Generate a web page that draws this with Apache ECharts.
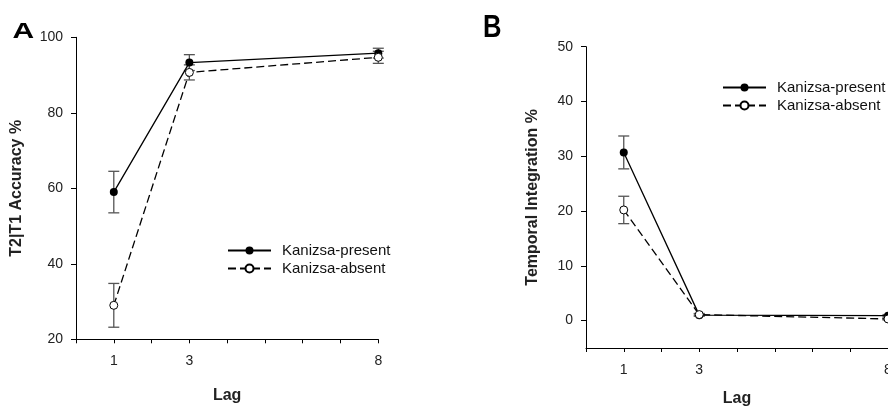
<!DOCTYPE html>
<html>
<head>
<meta charset="utf-8">
<script src="https://cdn.jsdelivr.net/npm/echarts@6/dist/echarts.min.js"></script>
<style>html,body{margin:0;padding:0;background:#fff}#c{width:888px;height:406px}</style>
</head>
<body>
<div id="c"></div>
<script>
// ---- data ----
var lags = [1, 3, 8];
var xTickLabels = [1, 3, 8];
var seriesNames = ['Kanizsa-present', 'Kanizsa-absent'];
// Panel A: T2|T1 accuracy %
var accPresent = [59.0, 93.3, 95.8];
var accPresentErr = [5.5, 2.1, 1.3];
var accAbsent = [29.0, 90.7, 94.7];
var accAbsentErr = [5.8, 2.0, 1.6];
var yTicksA = [20, 40, 60, 80, 100];
// Panel B: temporal integration %
var tiPresent = [30.7, 1.0, 0.9];
var tiPresentErr = [3.0, 0.2, 0.2];
var tiAbsent = [20.2, 1.1, 0.3];
var tiAbsentErr = [2.5, 0.2, 0.2];
var yTicksB = [0, 10, 20, 30, 40, 50];

var FONT = '"Liberation Sans", Arial, sans-serif';
function pts(vals) { return lags.map(function (l, i) { return [l, vals[i]]; }); }
function errPts(vals, errs) { return lags.map(function (l, i) { return [l, vals[i], errs[i]]; }); }

function errSeries(name, xi, vals, errs) {
  return {
    type: 'custom', name: name, xAxisIndex: xi, yAxisIndex: xi, z: 1,
    data: errPts(vals, errs), silent: true, clip: false,
    renderItem: function (params, api) {
      var x = api.value(0), y = api.value(1), e = api.value(2);
      var t = api.coord([x, y + e]), b = api.coord([x, y - e]);
      var h = 5.5;
      var st = { stroke: '#555', lineWidth: 1.3 };
      return { type: 'group', children: [
        { type: 'line', shape: { x1: t[0], y1: t[1], x2: b[0], y2: b[1] }, style: st },
        { type: 'line', shape: { x1: t[0] - h, y1: t[1], x2: t[0] + h, y2: t[1] }, style: st },
        { type: 'line', shape: { x1: b[0] - h, y1: b[1], x2: b[0] + h, y2: b[1] }, style: st }
      ]};
    }
  };
}
function presentSeries(xi, vals) {
  return { type: 'line', name: seriesNames[0], xAxisIndex: xi, yAxisIndex: xi, z: 3,
    data: pts(vals), symbol: 'circle', symbolSize: 8, showSymbol: true, clip: false,
    lineStyle: { color: '#000', width: 1.3, type: 'solid' },
    itemStyle: { color: '#000', borderColor: '#000', borderWidth: 0 }, animation: false };
}
function absentSeries(xi, vals) {
  return { type: 'line', name: seriesNames[1], xAxisIndex: xi, yAxisIndex: xi, z: 3,
    data: pts(vals), symbol: 'circle', symbolSize: 8, showSymbol: true, clip: false,
    lineStyle: { color: '#000', width: 1.3, type: [8, 4] },
    itemStyle: { color: '#fff', borderColor: '#000', borderWidth: 1 }, animation: false };
}
function xAxis(gi, gap) {
  return { type: 'value', gridIndex: gi, min: 0, max: 8, interval: 1,
    name: 'Lag', nameLocation: 'middle', nameGap: gap,
    nameTextStyle: { fontFamily: FONT, fontWeight: 'bold', fontSize: 16, color: '#222' },
    axisLine: { onZero: false, lineStyle: { color: '#000', width: 1 } },
    axisTick: { inside: false, length: 4, lineStyle: { color: '#000' } },
    axisLabel: { margin: 15, fontFamily: FONT, fontSize: 14, color: '#222',
      showMinLabel: true, showMaxLabel: true, hideOverlap: false,
      formatter: function (v) { return xTickLabels.indexOf(v) >= 0 ? String(v) : ''; } },
    splitLine: { show: false } };
}
function yAxis(gi, min, max, ticks, name, gap) {
  return { type: 'value', gridIndex: gi, min: min, max: max,
    name: name, nameLocation: 'middle', nameGap: gap, nameRotate: 90,
    nameTextStyle: { fontFamily: FONT, fontWeight: 'bold', fontSize: 16, color: '#222' },
    axisLine: { show: true, onZero: false, lineStyle: { color: '#000', width: 1 } },
    axisTick: { show: true, length: 5, lineStyle: { color: '#000' }, customValues: ticks },
    axisLabel: { margin: 13, fontFamily: FONT, fontSize: 14, color: '#222', customValues: ticks },
    splitLine: { show: false } };
}
function legend(left, top) {
  return { data: seriesNames, orient: 'vertical', left: left, top: top, padding: 0,
    itemWidth: 43, itemHeight: 10, itemGap: 3, selectedMode: false,
    textStyle: { fontFamily: FONT, fontSize: 15, color: '#111', padding: [0, 0, 0, 6] } };
}

var chart = echarts.init(document.getElementById('c'), null, { renderer: 'canvas' });
chart.setOption({
  animation: false,
  grid: [
    { left: 76, top: 37.3, width: 302.3, height: 302, containLabel: false, outerBoundsMode: 'none' },
    { left: 586, top: 46.7, width: 302, height: 301.3, containLabel: false, outerBoundsMode: 'none' }
  ],
  xAxis: [xAxis(0, 48), xAxis(1, 43)],
  yAxis: [
    yAxis(0, 20, 100, yTicksA, 'T2|T1 Accuracy %', 51),
    yAxis(1, -5, 50, yTicksB, 'Temporal Integration %', 45)
  ],
  legend: [legend(227, 243), legend(722, 80)],
  graphic: [
    { type: 'text', x: 12.5, y: 21, scaleY: 0.72,
      style: { text: 'A', font: 'bold 30px ' + FONT, fill: '#000', verticalAlign: 'top', align: 'left' } },
    { type: 'text', x: 483, y: 12, scaleX: 0.8,
      style: { text: 'B', font: 'bold 32px ' + FONT, fill: '#000', verticalAlign: 'top', align: 'left' } }
  ],
  series: [
    errSeries('errA1', 0, accPresent, accPresentErr),
    errSeries('errA2', 0, accAbsent, accAbsentErr),
    presentSeries(0, accPresent),
    absentSeries(0, accAbsent),
    errSeries('errB1', 1, tiPresent, tiPresentErr),
    errSeries('errB2', 1, tiAbsent, tiAbsentErr),
    presentSeries(1, tiPresent),
    absentSeries(1, tiAbsent)
  ]
});
</script>
</body>
</html>
